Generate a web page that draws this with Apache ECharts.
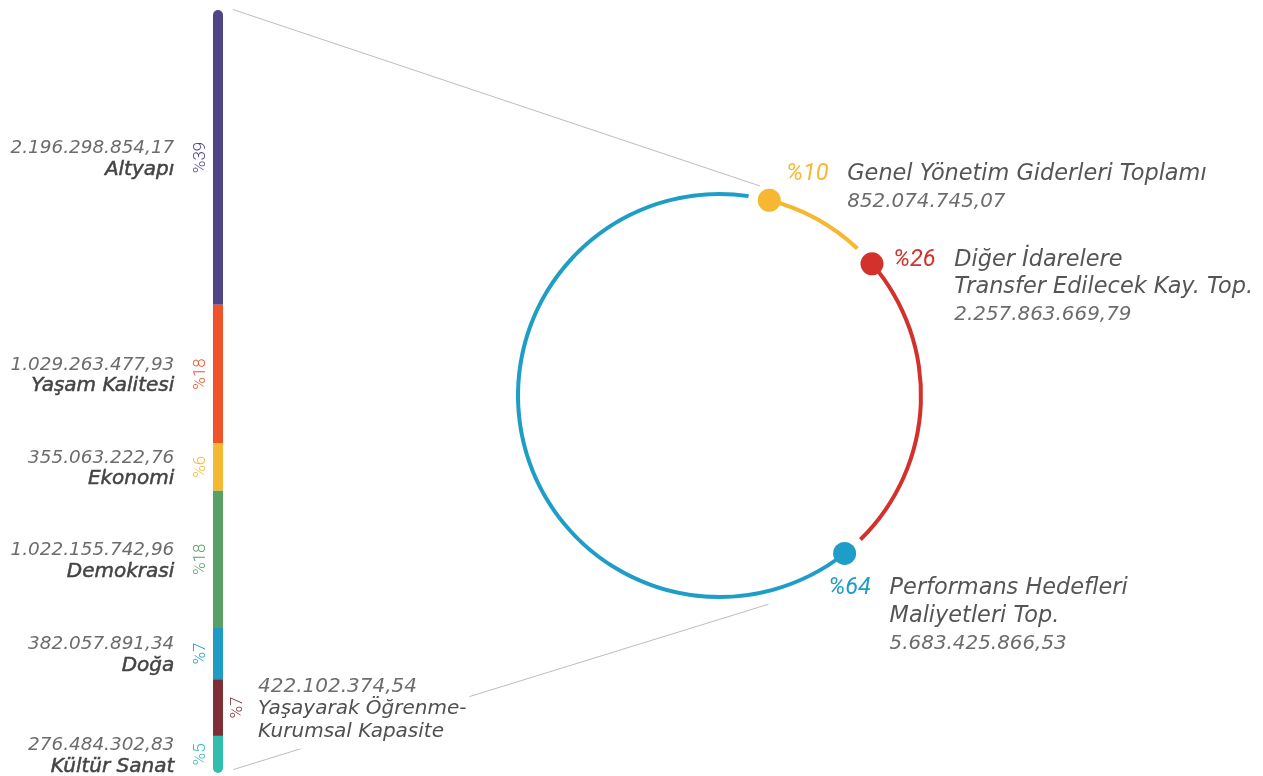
<!DOCTYPE html>
<html><head><meta charset="utf-8">
<script src="https://cdn.jsdelivr.net/npm/echarts@6/dist/echarts.min.js"></script>
<style>html,body{margin:0;padding:0;background:#fff}#c{width:1263px;height:776px}</style>
</head><body><div id="c"></div>
<script>
// ---------- DATA ----------
const barNames = ['Altyapı', 'Yaşam Kalitesi', 'Ekonomi', 'Demokrasi', 'Doğa', 'Yaşayarak Öğrenme-\nKurumsal Kapasite', 'Kültür Sanat'];
const barValues = [2196298854.17, 1029263477.93, 355063222.76, 1022155742.96, 382057891.34, 422102374.54, 276484302.83];
const barPercents = ['%39', '%18', '%6', '%18', '%7', '%7', '%5'];
const barColors = ['#51458A', '#EF5429', '#F6B733', '#57A165', '#1F9CC6', '#7E2E34', '#33BDB0'];

const ringNames = ['Genel Yönetim Giderleri Toplamı', 'Diğer İdarelere\nTransfer Edilecek Kay. Top.', 'Performans Hedefleri\nMaliyetleri Top.'];
const ringValues = [852074745.07, 2257863669.79, 5683425866.53];
const ringPercents = ['%10', '%26', '%64'];
const ringColors = ['#F6B733', '#D2322B', '#1E9DC6'];

// ---------- HELPERS ----------
function fmtTR(v) {
  const parts = v.toFixed(2).split('.');
  return parts[0].replace(/\B(?=(\d{3})+(?!\d))/g, '.') + ',' + parts[1];
}
const FONT = 'DejaVu Sans';
const PFONT = 'Roboto';
const TXT = '#444446';
const TXT_V = '#6C6C6E';

// ---------- LAYOUT ----------
const gridTop = 10, gridH = 763, barLeft = 213, barW = 10;
const ringC = [719.5, 395.5], ringR = 201.5, ringW = 4;
const padDeg = 6;
const pieStart = 78.7;

const barTotal = barValues.reduce((a, b) => a + b, 0);
const ringTotal = ringValues.reduce((a, b) => a + b, 0);
const ringStarts = [];
ringValues.reduce((acc, v) => { ringStarts.push(acc); return acc + v; }, 0);

const series = [];
barValues.forEach((v, i) => {
  const right = i === 5;
  const first = i === 0, last = i === barValues.length - 1;
  series.push({
    type: 'bar', stack: 'a', barWidth: barW, barGap: '-100%', z: 5,
    data: [v], silent: true,
    itemStyle: { color: barColors[i], borderRadius: first ? [5, 5, 0, 0] : last ? [0, 0, 5, 5] : 0 },
    label: {
      show: true, position: right ? 'right' : 'left', distance: right ? 14 : 13.5,
      rotate: 90, align: 'center', verticalAlign: 'middle', offset: [0, 1],
      formatter: barPercents[i], color: barColors[i],
      fontFamily: PFONT, fontSize: 17, fontWeight: 300
    }
  });
});
barValues.forEach((v, i) => {
  const right = i === 5;
  const nameLines = barNames[i].split('\n').map(s => '{n|' + s + '}').join('\n');
  series.push({
    type: 'bar', stack: 'b', barWidth: barW, barGap: '-100%', z: 6,
    data: [v], silent: true,
    itemStyle: { color: 'transparent' },
    label: {
      show: true, position: right ? 'right' : 'left', distance: right ? 35 : 38.7,
      align: right ? 'left' : 'right', verticalAlign: 'middle',
      offset: [0, 1.5],
      backgroundColor: right ? '#fff' : 'transparent',
      padding: right ? [6, 3, 6, 0] : 0,
      formatter: '{v|' + fmtTR(v) + '}\n' + nameLines,
      rich: {
        v: { fontFamily: FONT, fontStyle: 'italic', fontWeight: 400, fontSize: right ? 20 : 18.4, color: TXT_V, lineHeight: right ? 22.5 : 21 },
        n: { fontFamily: FONT, fontStyle: 'italic', fontWeight: 400, fontSize: 20, color: right ? '#505052' : TXT, lineHeight: right ? 22.5 : 21,
             textBorderColor: right ? 'transparent' : TXT, textBorderWidth: right ? 0 : 0.5 }
      }
    }
  });
});

// ring arcs
series.push({
  type: 'pie', center: ringC, radius: [ringR - ringW / 2, ringR + ringW / 2],
  startAngle: pieStart, padAngle: padDeg, clockwise: true, silent: true, z: 3,
  label: { show: false }, labelLine: { show: false },
  data: ringValues.map((v, i) => ({ value: v, name: ringNames[i], itemStyle: { color: ringColors[i] } }))
});

// ring dots with labels
const labelPos = [[28.5, -0.5], [32.8, 35], [-4.5, 74]];
function ringLabel(i) {
  const lines = ringNames[i].split('\n');
  let s = '{p|' + ringPercents[i] + '}{n|' + lines[0] + '}';
  for (let k = 1; k < lines.length; k++) s += '\n{s| }{n|' + lines[k] + '}';
  s += '\n{s| }{v|' + fmtTR(ringValues[i]) + '}';
  return s;
}
series.push({
  type: 'scatter', coordinateSystem: 'polar', symbolSize: 23, silent: true, z: 8,
  data: ringStarts.map((c, i) => ({
    value: [1, c],
    itemStyle: { color: ringColors[i], opacity: 1 },
    label: {
      show: true, position: labelPos[i], align: 'left', verticalAlign: 'middle',
      formatter: ringLabel(i),
      rich: {
        p: { width: 61, fontFamily: PFONT, fontStyle: 'italic', fontWeight: 400, fontSize: 23.5, color: ringColors[i], lineHeight: 27.5 },
        s: { width: 61, fontSize: 22, lineHeight: 27.5 },
        n: { fontFamily: FONT, fontStyle: 'italic', fontWeight: 400, fontSize: 22.4, color: '#555557', lineHeight: 27.5 },
        v: { fontFamily: FONT, fontStyle: 'italic', fontWeight: 400, fontSize: 19.9, color: TXT_V, lineHeight: 27.5 }
      }
    }
  }))
});

// connector lines (layout decoration)
const barRight = barLeft + barW;
function ringPt(degFromTop, r) {
  const a = degFromTop * Math.PI / 180;
  return [ringC[0] + r * Math.sin(a), ringC[1] - r * Math.cos(a)];
}
const topEnd = ringPt(10.9, 213.4), botEnd = ringPt(166.8, 214.4);

const option = {
  animation: false,
  backgroundColor: '#fff',
  grid: { left: barLeft, top: gridTop, width: barW, height: gridH },
  xAxis: { type: 'category', data: ['x'], show: false },
  yAxis: { type: 'value', min: 0, max: barTotal, inverse: true, show: false },
  polar: { center: ringC, radius: ringR },
  angleAxis: { type: 'value', min: 0, max: ringTotal, startAngle: pieStart - padDeg / 2, clockwise: true, show: false },
  radiusAxis: { type: 'value', min: 0, max: 1, show: false },
  graphic: [
    { type: 'line', z: 1, silent: true, shape: { x1: barRight + 10, y1: 9.5, x2: topEnd[0], y2: topEnd[1] }, style: { stroke: '#BDBDBD', lineWidth: 1 } },
    { type: 'line', z: 1, silent: true, shape: { x1: barRight + 10.5, y1: 769.5, x2: botEnd[0], y2: botEnd[1] }, style: { stroke: '#BDBDBD', lineWidth: 1 } }
  ],
  series: series
};
const chart = echarts.init(document.getElementById('c'));
chart.setOption(option);
</script>
</body></html>
